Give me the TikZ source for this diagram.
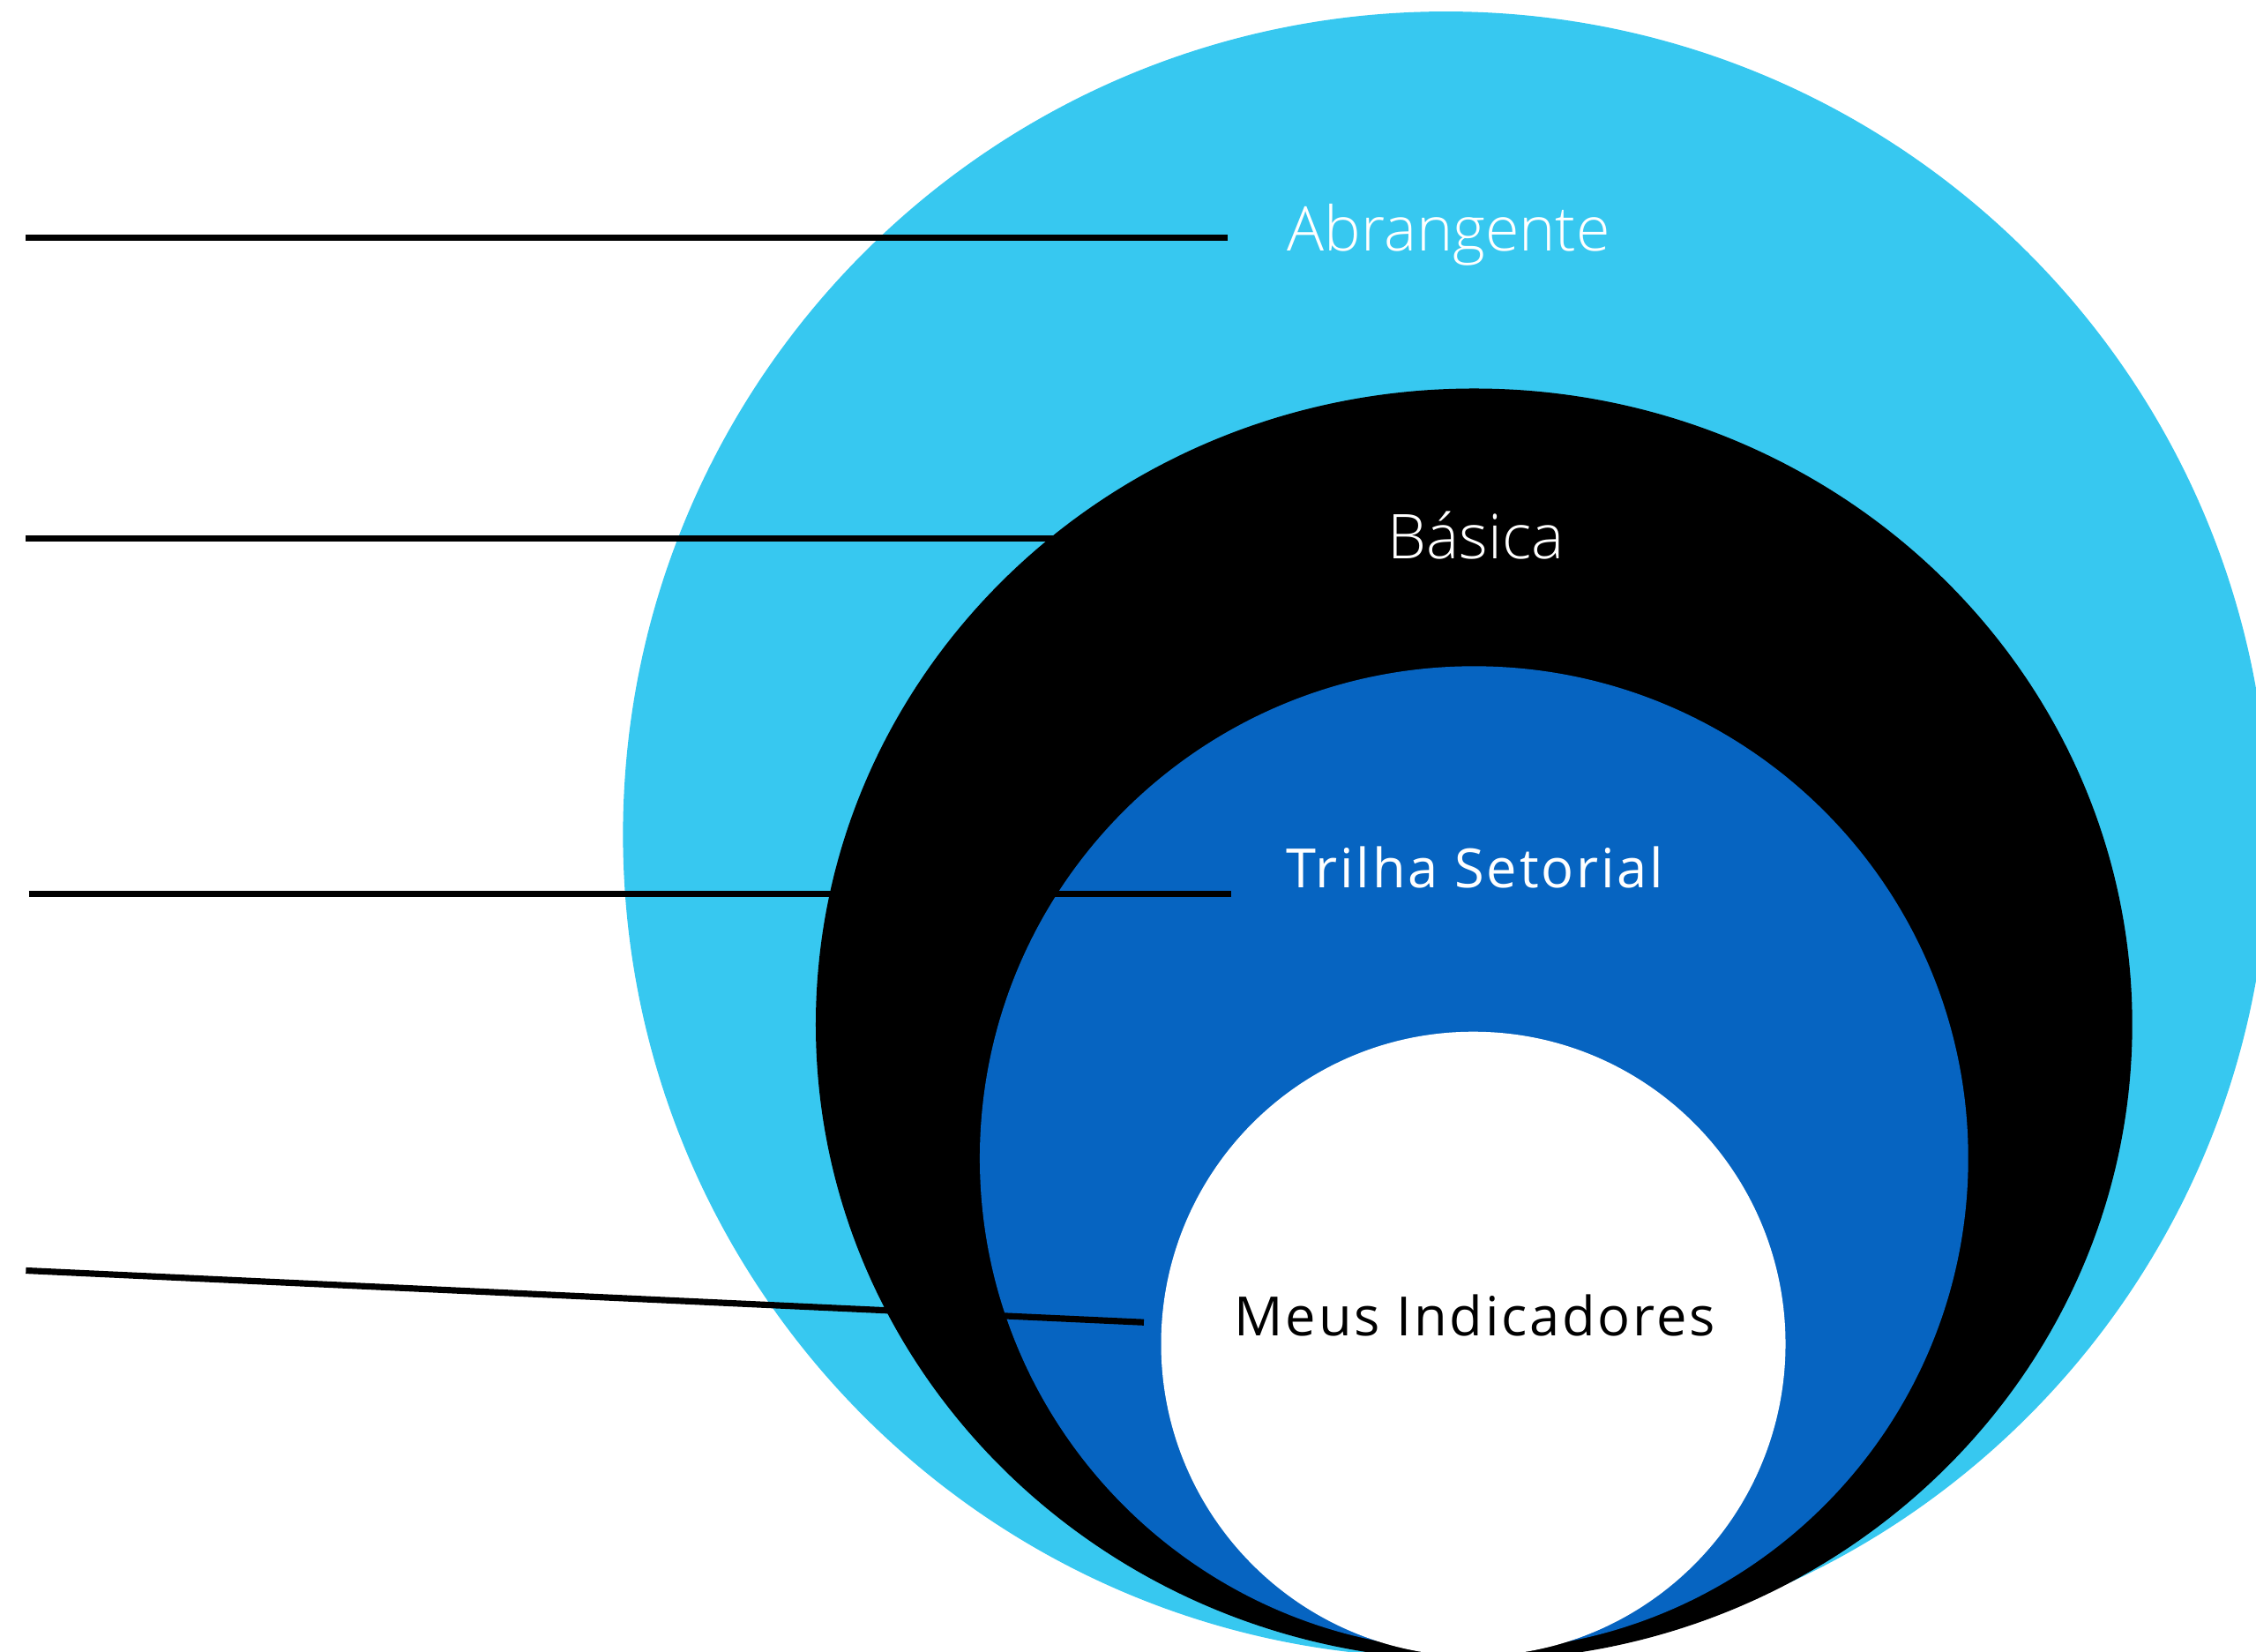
\documentclass[tikz,border=0pt]{standalone}
\usepackage{fontspec}
\setmainfont{Open Sans}
\newfontfamily\lightfont{Open Sans Light}
\newfontfamily\spacedfont[LetterSpace=4.5]{Open Sans}
\usepackage{tikz}
\usetikzlibrary{positioning}
\usepackage{xcolor}
\definecolor{levelSky}{RGB}{55, 200, 240}
\definecolor{levelBlue}{RGB}{6, 100, 193}
\definecolor{levelBlack}{RGB}{0, 0, 0}

\begin{document}
\begin{tikzpicture}[x=0.01cm, y=-0.01cm]
    \useasboundingbox (0,0) rectangle (1568,1148);
    \clip (0,0) rectangle (1568,1148);
    \fill[levelSky] (1005,580) ellipse [x radius=572, y radius=572];
    \fill[levelBlack] (1024.5,712) ellipse [x radius=457.5, y radius=442];
    \fill[levelBlue] (1024.5,805) ellipse [x radius=343.5, y radius=342];
    \fill[white] (1024,934) ellipse [x radius=217, y radius=217];

    \node[font=\lightfont\fontsize{12.2}{15}\selectfont, text=white] (abr) at (1007,163) {Abrangente};
    \node[font=\lightfont\fontsize{12.2}{15}\selectfont, text=white] (bas) at (1026,372) {Básica};
    \node[font=\spacedfont\fontsize{10.7}{13}\selectfont, text=white] (tri) at (1025,603) {Trilha Setorial};
    \node[font=\spacedfont\fontsize{10.7}{13}\selectfont, text=black] (meu) at (1025,914) {Meus Indicadores};

    \coordinate (l1a) at (18,165);  \coordinate (l1b) at (853,165);
    \coordinate (l2a) at (18,374);  \coordinate (l2b) at (740,374);
    \coordinate (l3a) at (20,621);  \coordinate (l3b) at (856,621);
    \coordinate (l4a) at (18,883);  \coordinate (l4b) at (795,919);

    \draw[line width=1.25pt, black] (l1a) -- (l1b);
    \draw[line width=1.25pt, black] (l2a) -- (l2b);
    \draw[line width=1.25pt, black] (l3a) -- (l3b);
    \draw[line width=1.25pt, black] (l4a) -- (l4b);
\end{tikzpicture}
\end{document}
